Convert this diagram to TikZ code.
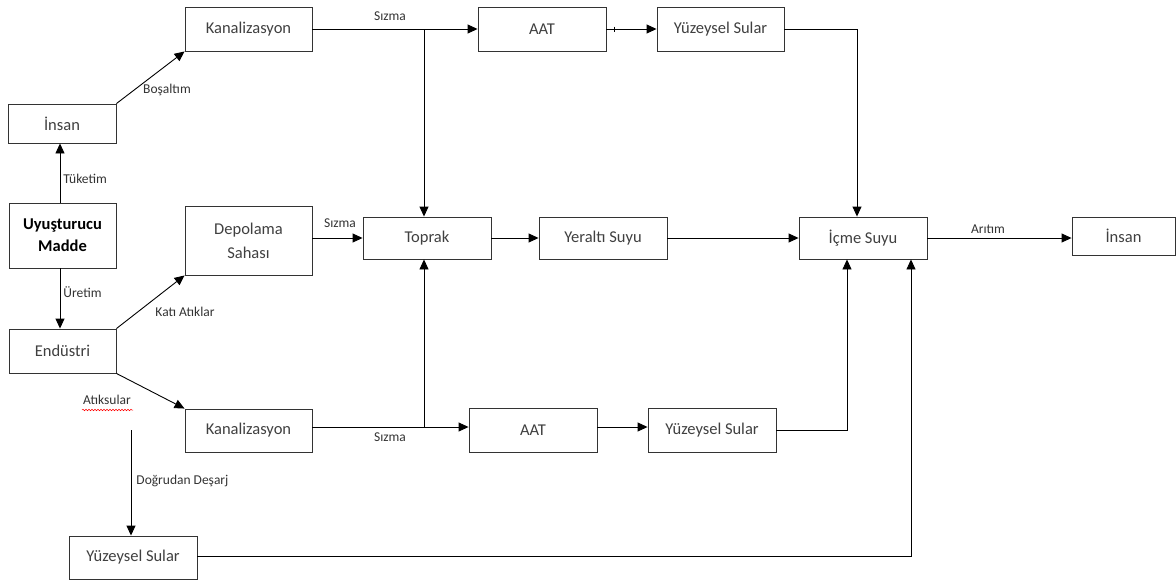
\documentclass[tikz,border=0pt]{standalone}
\usepackage{fontspec}
\setmainfont{Carlito}
\usetikzlibrary{arrows.meta,decorations.pathmorphing}
\tikzset{
  box/.style={draw=black!80, line width=0.9pt, fill=white, text=black!75, font=\fontsize{16.5}{19}\selectfont, inner sep=0pt, align=center},
  conn/.style={line width=0.9pt, draw=black},
  arr/.style={conn, -{Triangle[length=10pt,width=9pt]}},
  lbl/.style={font=\fontsize{13.5}{15}\selectfont, text=black!80, inner sep=0pt},
}
\begin{document}
\begin{tikzpicture}[x=1pt,y=-1pt]
\useasboundingbox (0,0) rectangle (1176,584);
% boxes
\node[box, minimum width=108pt, minimum height=39pt] (insan1) at (62,123.5) {İnsan};
\node[box, minimum width=107pt, minimum height=65pt, text=black, font=\fontsize{16.5}{22}\selectfont\bfseries] (uyu) at (62.5,235.5) {Uyuşturucu\\Madde};
\node[box, minimum width=107pt, minimum height=44pt] (end) at (62.5,351) {Endüstri};
\node[box, minimum width=127pt, minimum height=44pt] (kan1) at (248.5,29) {Kanalizasyon};
\node[box, minimum width=127pt, minimum height=69pt, font=\fontsize{16.5}{24}\selectfont] (dep) at (248.5,240.5) {Depolama\\Sahası};
\node[box, minimum width=127pt, minimum height=43pt] (kan2) at (248.5,430.5) {Kanalizasyon};
\node[box, minimum width=128pt, minimum height=44pt] (aat1) at (542,29) {AAT};
\node[box, minimum width=127pt, minimum height=44pt] (yuz1) at (720.5,29) {Yüzeysel Sular};
\node[box, minimum width=128pt, minimum height=42pt] (top) at (427,238) {Toprak};
\node[box, minimum width=128pt, minimum height=42pt] (yer) at (603,238) {Yeraltı Suyu};
\node[box, minimum width=128pt, minimum height=42pt] (icme) at (863,238) {İçme Suyu};
\node[box, minimum width=103pt, minimum height=38pt] (insan2) at (1123.5,236) {İnsan};
\node[box, minimum width=128pt, minimum height=44pt] (aat2) at (533,430) {AAT};
\node[box, minimum width=128pt, minimum height=44pt] (yuz2) at (712,430) {Yüzeysel Sular};
\node[box, minimum width=128pt, minimum height=43pt] (yuz3) at (133,557.5) {Yüzeysel Sular};
% coordinates
\coordinate (j1) at (424,29);
\coordinate (j2) at (424,427);
\coordinate (c1) at (857,29);
\coordinate (c2) at (847,430);
\coordinate (c3) at (911,556);
\coordinate (d0) at (131,430);
% connectors
\draw[arr] (uyu.north -| 60,0) -- (insan1.south -| 60,0) node[lbl, pos=0.4, right=3pt] {Tüketim};
\draw[arr] (uyu.south -| 60,0) -- (end.north -| 60,0) node[lbl, pos=0.4, right=3pt] {Üretim};
\draw[arr] (insan1.north east) -- (kan1.south west);
\node[lbl] (l1) at (167,90) {Boşaltım};
\draw[arr] (end.north east) -- (dep.south west);
\node[lbl] (l2) at (185,312) {Katı Atıklar};
\draw[arr] (end.south east) -- (kan2.north west);
\node[lbl] (l3) at (107,400) {Atıksular};
\draw[red, line width=0.5pt, decorate, decoration={snake, amplitude=0.8pt, segment length=3pt}] (82,410) -- (133,410);
\draw[arr] (kan1.east) -- (aat1.west);
\node[lbl] (l4) at (390,16) {Sızma};
\draw[arr] (j1) -- (top.north -| j1);
\draw[arr] (aat1.east) -- (yuz1.west);
\draw[conn, line width=0.6pt] (aat1.east) ++(8,-2.5) -- ++(0,5);
\draw[arr] (yuz1.east) -- (c1) -- (icme.north -| c1);
\draw[arr] (dep.east |- top.west) -- (top.west);
\node[lbl] (l5) at (340,223) {Sızma};
\draw[arr] (top.east) -- (yer.west);
\draw[arr] (yer.east) -- (icme.west);
\draw[arr] (icme.east) -- (insan2.west |- icme.east) node[lbl, pos=0.42, above=4pt] {Arıtım};
\draw[arr] (kan2.east |- j2) -- (aat2.west |- j2);
\node[lbl] (l6) at (390,437) {Sızma};
\draw[arr] (j2) -- (top.south -| j2);
\draw[arr] (aat2.east |- j2) -- (yuz2.west |- j2);
\draw[arr] (yuz2.east) -- (c2) -- (icme.south -| c2);
\draw[arr] (d0) -- (yuz3.north -| d0) node[lbl, pos=0.48, right=5pt] {Doğrudan Deşarj};
\draw[arr] (yuz3.east |- c3) -- (c3) -- (icme.south -| c3);
\end{tikzpicture}
\end{document}
